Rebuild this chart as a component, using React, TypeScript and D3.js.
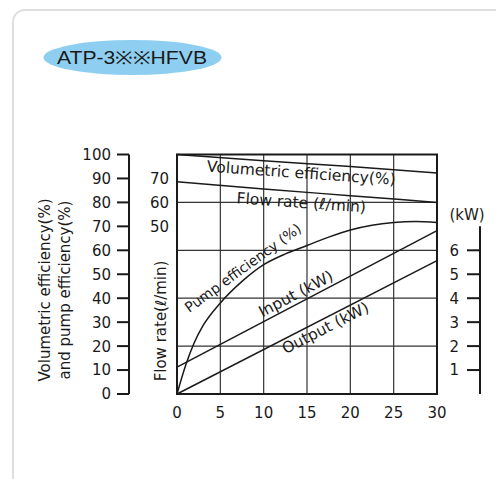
import React from "react";
import * as d3 from "d3";

const title = "ATP-3※※HFVB";
const xTicks = [0, 5, 10, 15, 20, 25, 30];
const leftTicks = [0, 10, 20, 30, 40, 50, 60, 70, 80, 90, 100];
const flowTickLabels = [70, 60, 50];
const kwTicks = [1, 2, 3, 4, 5, 6];
const hGrid = [20, 40, 60, 80];

const volEff: [number, number][] = [[0, 100], [10, 97.4], [20, 95], [30, 92.3]];
const flowRate: [number, number][] = [[0, 68.6], [10, 65.6], [20, 62.8], [30, 60]];
const pumpEff: [number, number][] = [
  [0, 0], [1, 12], [2, 21.5], [3, 28.5], [5, 38], [7.5, 47], [10, 54], [12.5, 58.5],
  [15, 62], [17.5, 65.5], [20, 68.5], [22.5, 70.5], [25, 71.6], [27.5, 72], [30, 71.6],
];
const inputKw: [number, number][] = [[0, 1.12], [30, 6.82]];
const outputKw: [number, number][] = [[0, 0], [30, 5.57]];

const FONT = "'DejaVu Sans', 'Liberation Sans', Arial, sans-serif";
const INK = "#1a1a1a";

export default function App() {
  const x = d3.scaleLinear().domain([0, 30]).range([177, 437]);
  const yPct = d3.scaleLinear().domain([0, 100]).range([394, 154.5]);
  const yFlow = d3.scaleLinear().domain([-20, 80]).range([394, 154.5]);
  const yKw = d3.scaleLinear().domain([0, 10]).range([394, 154.5]);

  const linePct = d3.line<[number, number]>().x(d => x(d[0])).y(d => yPct(d[1])).curve(d3.curveMonotoneX);
  const lineFlow = d3.line<[number, number]>().x(d => x(d[0])).y(d => yFlow(d[1])).curve(d3.curveMonotoneX);
  const lineKw = d3.line<[number, number]>().x(d => x(d[0])).y(d => yKw(d[1]));

  const interp = (arr: [number, number][], v: number) => {
    for (let i = 0; i < arr.length - 1; i++) {
      if (v >= arr[i][0] && v <= arr[i + 1][0]) {
        const t = (v - arr[i][0]) / (arr[i + 1][0] - arr[i][0]);
        return arr[i][1] + t * (arr[i + 1][1] - arr[i][1]);
      }
    }
    return arr[arr.length - 1][1];
  };
  const angleOf = (sc: d3.ScaleLinear<number, number>, arr: [number, number][]) => {
    const a = arr[0], b = arr[arr.length - 1];
    return (Math.atan2(sc(b[1]) - sc(a[1]), x(b[0]) - x(a[0])) * 180) / Math.PI;
  };

  const [x0, x1] = x.range();
  const yTop = yPct(100), yBot = yPct(0);
  const kwAxisX = 480;

  const volV = 14.3, flowV = 14.3, inV = 14.0, outV = 17.4;

  return (
    <svg width={496} height={479} style={{ position: "absolute", left: 0, top: 0, background: "#fff" }} fontFamily={FONT}>
      <rect x={13} y={10} width={620} height={520} rx={12} fill="#fff" stroke="#dedede" strokeWidth={2} />

      <ellipse cx={132.5} cy={57.5} rx={89} ry={17.5} fill="#8ecff1" />
      <text x={132} y={64} textAnchor="middle" fontSize={18} fill={INK} fontFamily="'Liberation Sans', Arial, sans-serif" textLength={150} lengthAdjust="spacingAndGlyphs">{title}</text>

      {/* grid */}
      {xTicks.slice(1, -1).map(v => (
        <line key={"vg" + v} x1={x(v)} x2={x(v)} y1={yTop} y2={yBot} stroke="#333" strokeWidth={1.2} />
      ))}
      {hGrid.map(v => (
        <line key={"hg" + v} x1={x0} x2={x1} y1={yPct(v)} y2={yPct(v)} stroke="#333" strokeWidth={1.2} />
      ))}
      <rect x={x0} y={yTop} width={x1 - x0} height={yBot - yTop} fill="none" stroke={INK} strokeWidth={2} />

      {/* curves */}
      <g fill="none" stroke={INK} strokeWidth={1.5}>
        <path d={linePct(volEff) || ""} />
        <path d={lineFlow(flowRate) || ""} />
        <path d={linePct(pumpEff) || ""} />
        <path d={lineKw(inputKw) || ""} />
        <path d={lineKw(outputKw) || ""} />
      </g>

      {/* curve labels */}
      <g fontSize={15.5} fill={INK} textAnchor="middle">
        <text transform={`translate(${x(volV)},${yPct(interp(volEff, volV)) + 15}) rotate(4)`}>Volumetric efficiency(%)</text>
        <text transform={`translate(${x(flowV)},${yFlow(interp(flowRate, flowV)) + 16}) rotate(4)`}>Flow rate (ℓ/min)</text>
        <text fontSize={14} transform={`translate(${x(7.95)},${yPct(51)}) rotate(-36)`}>Pump efficiency (%)</text>
        <text transform={`translate(${x(inV)},${yKw(interp(inputKw, inV)) - 5}) rotate(${angleOf(yKw, inputKw)})`}>Input (kW)</text>
        <text transform={`translate(${x(outV)},${yKw(interp(outputKw, outV)) + 16}) rotate(${angleOf(yKw, outputKw)})`}>Output (kW)</text>
      </g>

      {/* left axis */}
      <line x1={129} x2={129} y1={yPct(100)} y2={yPct(0)} stroke={INK} strokeWidth={2} />
      {leftTicks.map(v => (
        <g key={"lt" + v}>
          <line x1={117} x2={129} y1={yPct(v)} y2={yPct(v)} stroke={INK} strokeWidth={2} />
          <text x={111} y={yPct(v)} dy="0.36em" textAnchor="end" fontSize={15} fill={INK}>{v}</text>
        </g>
      ))}

      {/* flow labels */}
      {flowTickLabels.map(v => (
        <text key={"fl" + v} x={169} y={yFlow(v)} dy="0.36em" textAnchor="end" fontSize={15} fill={INK}>{v}</text>
      ))}

      {/* x labels */}
      {xTicks.map(v => (
        <text key={"xt" + v} x={x(v)} y={418} textAnchor="middle" fontSize={15} fill={INK}>{v}</text>
      ))}

      {/* right kW axis */}
      <text x={467} y={220} textAnchor="middle" fontSize={15} fill={INK}>(kW)</text>
      <line x1={kwAxisX} x2={kwAxisX} y1={yKw(7)} y2={yKw(0)} stroke={INK} strokeWidth={2} />
      {kwTicks.map(v => (
        <g key={"kt" + v}>
          <line x1={467} x2={kwAxisX} y1={yKw(v)} y2={yKw(v)} stroke={INK} strokeWidth={2} />
          <text x={459} y={yKw(v)} dy="0.36em" textAnchor="end" fontSize={15} fill={INK}>{v}</text>
        </g>
      ))}

      {/* axis titles */}
      <g fontSize={15} fill={INK} textAnchor="middle">
        <text transform={`translate(50,290) rotate(-90)`}>Volumetric efficiency(%)</text>
        <text transform={`translate(70,290) rotate(-90)`}>and pump efficiency(%)</text>
        <text transform={`translate(166,321) rotate(-90)`}>Flow rate(ℓ/min)</text>
      </g>
    </svg>
  );
}
